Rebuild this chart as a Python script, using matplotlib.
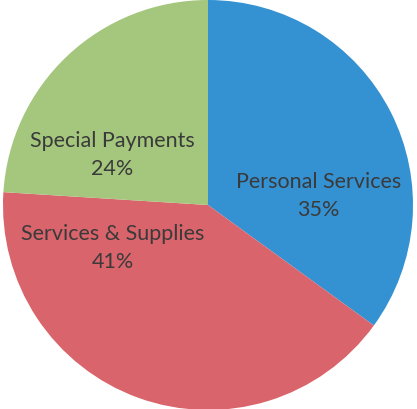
import matplotlib.pyplot as plt

labels = ["Personal Services", "Services & Supplies", "Special Payments"]
shares = [35, 41, 24]
colors = ["#3592d2", "#d9646b", "#a4c77d"]
# label anchor points in axes fraction (Excel places them freely)
label_pos = [(0.763, 0.521), (0.27, 0.394), (0.27, 0.620)]

fig = plt.figure(figsize=(4.17, 4.09), dpi=100)
ax = fig.add_axes([0, 0, 1, 1])
r = 205
ax.pie(shares, colors=colors, startangle=90, counterclock=False,
       radius=1, wedgeprops=dict(linewidth=0))
ax.set_xlim(-208 / r, (417 - 208) / r)
ax.set_ylim(-(409 - 205) / r, 205 / r)
ax.set_aspect("equal")
ax.axis("off")

for lab, val, (x, y) in zip(labels, shares, label_pos):
    ax.text(x, y, f"{lab}\n{val}%", transform=ax.transAxes, ha="center",
            va="center", fontsize=15.5, family="Lato", color="#3a3a3a",
            linespacing=1.5)

fig.savefig("out.png", dpi=100)
